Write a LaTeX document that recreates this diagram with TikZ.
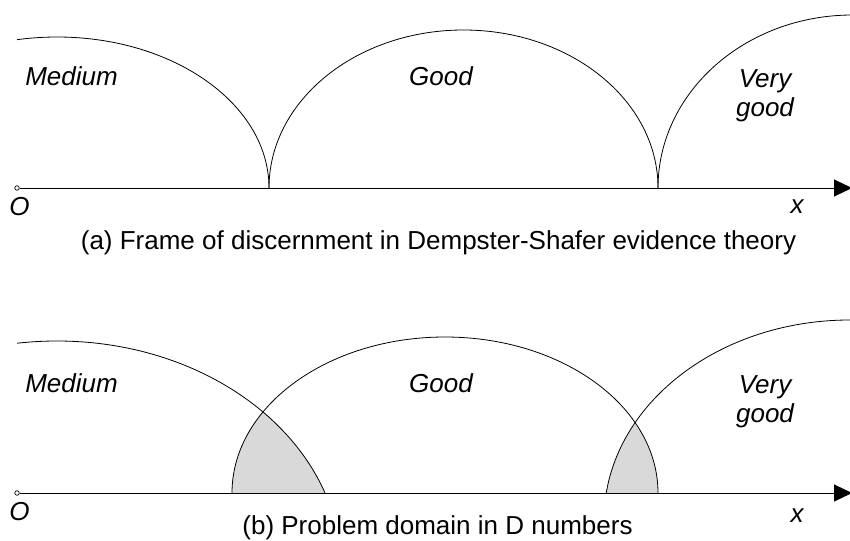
\documentclass[tikz,border=0pt]{standalone}
\usepackage{fontspec}
\setmainfont{Liberation Sans}
\usetikzlibrary{arrows.meta}
\begin{document}
\begin{tikzpicture}[x=1pt,y=-1pt,
  curve/.style={line width=0.8pt},
  axisline/.style={line width=1pt,-{Triangle[length=18pt,width=17pt]}},
  shade/.style={fill=black!15},
  lbl/.style={font=\fontsize{26}{29}\selectfont\itshape,inner sep=0pt,anchor=base,align=center},
  captext/.style={font=\fontsize{26}{29}\selectfont,inner sep=0pt,anchor=base},
  origin/.style={circle,draw,fill=white,inner sep=0pt,minimum size=4.5pt,line width=0.7pt}]
\useasboundingbox (0,0) rectangle (850,540);
% ---------- panel (a) ----------
\begin{scope}
  \clip (17,0) rectangle (860,188);
  \draw[curve] (57,188) ellipse [x radius=212pt, y radius=151pt];
  \draw[curve] (463.5,188) ellipse [x radius=194.5pt, y radius=158pt];
  \draw[curve] (852.5,188) ellipse [x radius=194.5pt, y radius=173pt];
\end{scope}
\node[origin] (oa) at (17,188) {};
\coordinate (ea) at (852,188);
\draw[axisline] (oa) -- (ea);
\node[lbl] (ma) at (71.5,86) {Medium};
\node[lbl] (ga) at (441,86) {Good};
\node[lbl] (va) at (765,117) {Very\\good};
\node[lbl] (Oa) at (19.5,215) {O};
\node[lbl] (xa) at (797,213) {x};
\node[captext] (capa) at (438.5,249) {(a) Frame of discernment in Dempster-Shafer evidence theory};
% ---------- panel (b) ----------
\begin{scope}
  \clip (445,493) ellipse [x radius=213pt, y radius=156pt];
  \clip (0,0) rectangle (860,493);
  \fill[shade] (57,569.6) ellipse [x radius=284.4pt, y radius=228.6pt];
  \fill[shade] (850,520) ellipse [x radius=246pt, y radius=200pt];
\end{scope}
\begin{scope}
  \clip (17,300) rectangle (860,493);
  \draw[curve] (57,569.6) ellipse [x radius=284.4pt, y radius=228.6pt];
  \draw[curve] (445,493) ellipse [x radius=213pt, y radius=156pt];
  \draw[curve] (850,520) ellipse [x radius=246pt, y radius=200pt];
\end{scope}
\node[origin] (ob) at (17,493) {};
\coordinate (eb) at (852,493);
\draw[axisline] (ob) -- (eb);
\node[lbl] (mb) at (71.5,392) {Medium};
\node[lbl] (gb) at (441,392) {Good};
\node[lbl] (vb) at (765,422) {Very\\good};
\node[lbl] (Ob) at (19.5,520) {O};
\node[lbl] (xb) at (797,522) {x};
\node[captext] (capb) at (437.5,534) {(b) Problem domain in D numbers};
\end{tikzpicture}
\end{document}
